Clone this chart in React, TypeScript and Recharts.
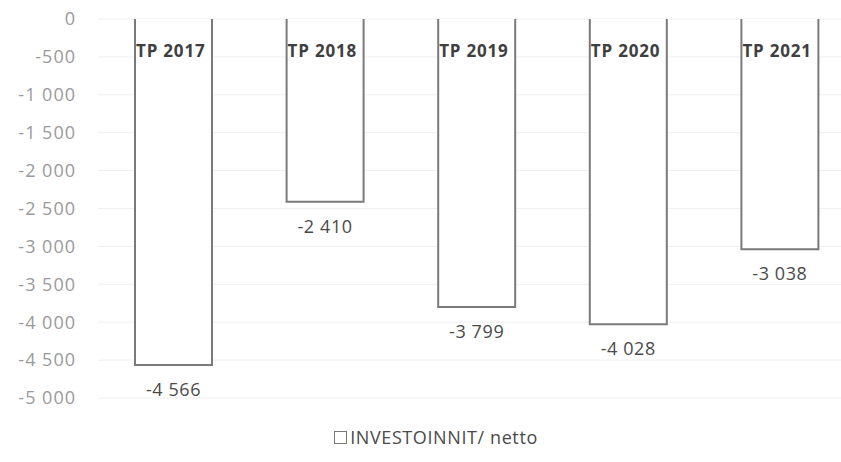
import { BarChart, Bar, XAxis, YAxis, CartesianGrid, Legend, LabelList } from 'recharts';

const CATEGORIES = ['TP 2017', 'TP 2018', 'TP 2019', 'TP 2020', 'TP 2021'];
const NET_INVESTMENTS = [-4566, -2410, -3799, -4028, -3038];
const Y_TICKS = [0, -500, -1000, -1500, -2000, -2500, -3000, -3500, -4000, -4500, -5000];
const SERIES_NAME = 'INVESTOINNIT/ netto';

const data = CATEGORIES.map((name, i) => ({ name, value: NET_INVESTMENTS[i] }));

const FONT = '"Open Sans", sans-serif';
const fmt = (v: number) => String(v).replace(/\B(?=(\d{3})+(?!\d))/g, ' ');

function OpenBar(props: any) {
  const { x, y, width, height } = props;
  const top = Math.min(y, y + height);
  const bottom = Math.max(y, y + height);
  const d = `M${x},${top} L${x},${bottom} L${x + width},${bottom} L${x + width},${top}`;
  return <path d={d} fill="#ffffff" stroke="#7a7a7a" strokeWidth={2} />;
}

function NameLabel(props: any) {
  const { x, y, height, value } = props;
  const top = Math.min(y, y + height);
  return (
    <text x={x + 1} y={top + 38} fill="#3f3f3f" fontFamily={FONT} fontSize={17} fontWeight={700} letterSpacing={0.8}>
      {value}
    </text>
  );
}

function ValueLabel(props: any) {
  const { x, y, width, height, value } = props;
  const bottom = Math.max(y, y + height);
  return (
    <text x={x + width / 2} y={bottom + 31} textAnchor="middle" fill="#4a4a4a" fontFamily={FONT} fontSize={18} letterSpacing={0.6}>
      {fmt(value)}
    </text>
  );
}

function LegendBox() {
  return (
    <div style={{ height: 50, display: 'flex', alignItems: 'flex-end', justifyContent: 'center' }}>
      <div style={{ display: 'flex', alignItems: 'center', marginLeft: 16, fontFamily: FONT, fontSize: 18, color: '#4a4a4a', letterSpacing: 0.6, lineHeight: '22px' }}>
        <span style={{ width: 11, height: 11, border: '1.5px solid #7a7a7a', display: 'inline-block', marginRight: 3 }} />
        {SERIES_NAME}
      </div>
    </div>
  );
}

export default function App() {
  return (
    <div style={{ position: 'fixed', left: 0, top: 0, width: 841, height: 462, overflow: 'hidden', background: '#fff' }}>
      <BarChart width={870} height={462} data={data} margin={{ top: 19, right: 14, bottom: 14, left: 0 }} barSize={77}>
        <CartesianGrid horizontal vertical={false} stroke="#efefef" />
        <XAxis dataKey="name" hide />
        <YAxis
          domain={[-5000, 0]}
          ticks={Y_TICKS}
          interval={0}
          width={98}
          axisLine={false}
          tickLine={false}
          tickMargin={16}
          tickFormatter={fmt}
          tick={{ fill: '#9a9a9a', fontSize: 18, fontFamily: FONT, letterSpacing: 1 }}
        />
        <Legend verticalAlign="bottom" content={() => <LegendBox />} />
        <Bar dataKey="value" name={SERIES_NAME} shape={<OpenBar />} isAnimationActive={false}>
          <LabelList dataKey="name" content={<NameLabel />} />
          <LabelList dataKey="value" content={<ValueLabel />} />
        </Bar>
      </BarChart>
    </div>
  );
}
